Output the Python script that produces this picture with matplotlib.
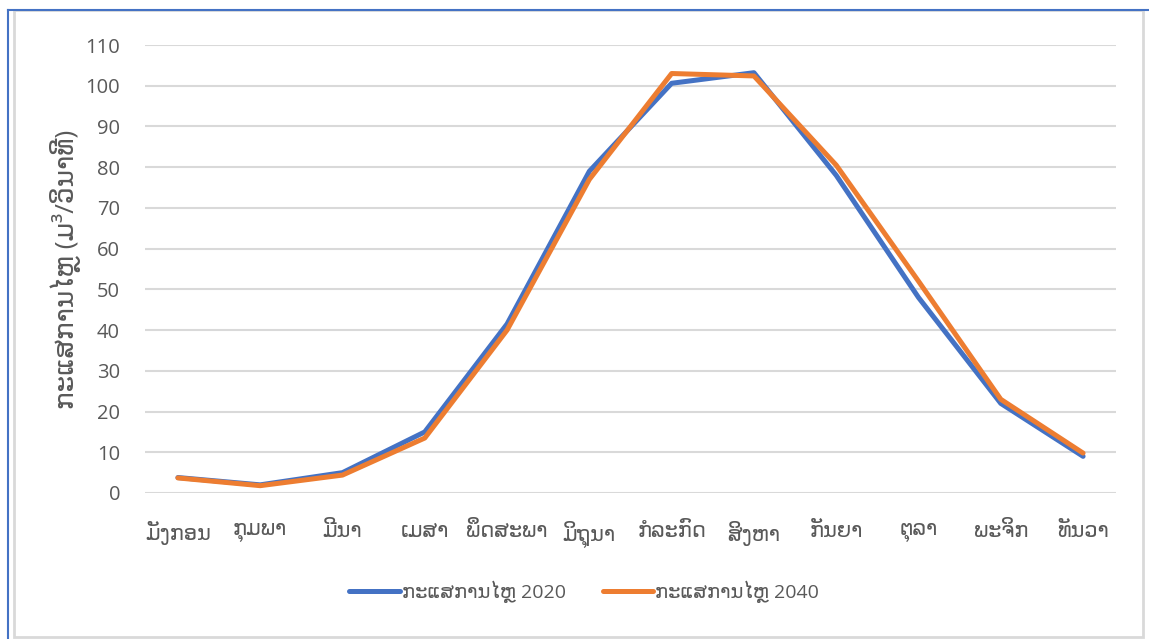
import matplotlib.pyplot as plt
from matplotlib.patches import Rectangle
from matplotlib.lines import Line2D

# monthly flow values
months = ['ມັງກອນ', 'ກຸມພາ', 'ມີນາ', 'ເມສາ', 'ພຶດສະພາ', 'ມິຖຸນາ',
          'ກໍລະກົດ', 'ສິງຫາ', 'ກັນຍາ', 'ຕຸລາ', 'ພະຈິກ', 'ທັນວາ']
flow_2020 = [3.8, 2.0, 5.0, 15.0, 41.5, 79.0, 100.6, 103.2, 78.0, 48.0, 22.0, 9.0]
flow_2040 = [3.7, 1.8, 4.4, 13.5, 40.0, 77.0, 103.0, 102.4, 80.5, 52.0, 23.0, 9.8]
yticks = list(range(0, 111, 10))

plt.rcParams['font.family'] = ['Open Sans', 'DejaVu Sans']
gray = '#595959'

fig = plt.figure(figsize=(11.49, 6.39), dpi=100)
ax = fig.add_axes([145 / 1149, 1 - 493 / 639, (1116 - 145) / 1149, 448 / 639])

x = list(range(len(months)))
ax.plot(x, flow_2020, color='#4472C4', lw=3.6, solid_capstyle='round', label='ກະແສການໄຫຼ 2020')
ax.plot(x, flow_2040, color='#ED7D31', lw=3.6, solid_capstyle='round', label='ກະແສການໄຫຼ 2040')

ax.set_xlim(-0.4, 11.4)
ax.set_ylim(0, 110)
ax.set_yticks(yticks)
ax.set_xticks(x)
ax.set_xticklabels(months, fontsize=15)
ax.tick_params(axis='both', length=0, colors=gray)
ax.tick_params(axis='y', labelsize=14.5, pad=18)
ax.tick_params(axis='x', pad=20)
ax.grid(axis='y', color='#d9d9d9', lw=1.5)
ax.set_axisbelow(True)
for s in ax.spines.values():
    s.set_visible(False)

ax.set_ylabel('ກະແສການໄຫຼ (ມ³/ວິນາທີ)', fontsize=19, color=gray, labelpad=3)

fig.legend(loc='center', bbox_to_anchor=(584 / 1149, 1 - 592 / 639), ncol=2,
           frameon=False, fontsize=14, labelcolor=gray, handlelength=2.6,
           handletextpad=0.1, columnspacing=1.9)

# outer frames
fig.add_artist(Rectangle((14 / 1149, 2 / 639), (1143 - 14) / 1149, (629 - 2) / 639,
                         transform=fig.transFigure, fill=False, ec='#d9d9d9', lw=2))
fig.add_artist(Line2D([8 / 1149, 8 / 1149], [0, 1 - 10 / 639], transform=fig.transFigure,
                      color='#4472C4', lw=1.5))
fig.add_artist(Line2D([8 / 1149, 1], [1 - 10 / 639, 1 - 10 / 639], transform=fig.transFigure,
                      color='#4472C4', lw=1.5))

fig.savefig('out.png', dpi=100)
